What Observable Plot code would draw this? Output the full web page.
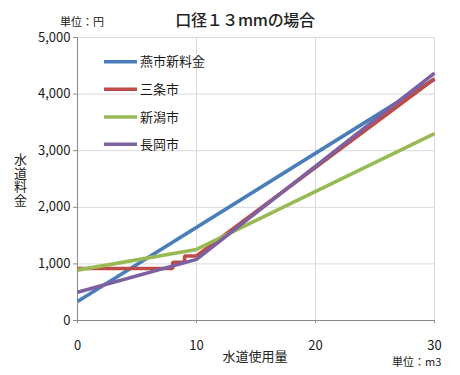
<!DOCTYPE html>
<html>
<head>
<meta charset="utf-8">
<script src="https://cdn.jsdelivr.net/npm/d3@7"></script>
<script src="https://cdn.jsdelivr.net/npm/@observablehq/plot@0.6"></script>
<style>
  body { margin: 0; background: #fff; }
  #wrap { position: relative; width: 460px; height: 375px; font-family: "Noto Sans CJK JP", sans-serif; color: #222; }
  #wrap svg.plot { position: absolute; left: 0; top: 0; }
  .ov { position: absolute; white-space: nowrap; line-height: 1; }
</style>
</head>
<body>
<div id="wrap"></div>
<script>
// ---- data ----
const seriesNames = ["燕市新料金", "三条市", "新潟市", "長岡市"];
const seriesColors = ["#4A7EBB", "#BE4B48", "#98B954", "#7D60A0"];
const tsubameX = [0, 30];
const tsubameY = [335, 4265];
const sanjoX = [0, 8, 8, 9, 9, 10, 30];
const sanjoY = [920, 920, 1030, 1030, 1140, 1140, 4270];
const niigataX = [0, 10, 30];
const niigataY = [890, 1255, 3300];
const nagaokaX = [0, 10, 30];
const nagaokaY = [500, 1080, 4370];
const xTicks = [0, 10, 20, 30];
const yTicks = [0, 1000, 2000, 3000, 4000, 5000];
const titleText = "口径１３mmの場合";
const yUnit = "単位：円";
const xUnit = "単位：m3";
const yLabel = "水道料金";
const xLabel = "水道使用量";

const allX = [tsubameX, sanjoX, niigataX, nagaokaX];
const allY = [tsubameY, sanjoY, niigataY, nagaokaY];
const rows = [];
seriesNames.forEach((name, i) => {
  allX[i].forEach((x, j) => rows.push({series: name, x, y: allY[i][j]}));
});

const font = '"Noto Sans CJK JP", sans-serif';
const chart = Plot.plot({
  width: 460,
  height: 375,
  marginLeft: 77,
  marginRight: 26,
  marginTop: 37,
  marginBottom: 55,
  style: {fontFamily: font, fontSize: "13px", background: "transparent"},
  x: {domain: [0, 30]},
  y: {domain: [0, 5000]},
  color: {domain: seriesNames, range: seriesColors},
  marks: [
    Plot.gridY(yTicks.slice(1), {stroke: "#d9d9d9", strokeOpacity: 1}),
    Plot.gridX(xTicks.slice(1), {stroke: "#d9d9d9", strokeOpacity: 1}),
    Plot.axisY(yTicks, {tickSize: 4, tickPadding: 3, tickFormat: d3.format(","), color: "#1a1a1a", stroke: "#8a8a8a", label: null, fontSize: 13}),
    Plot.axisX(xTicks, {tickSize: 3, tickPadding: 17, color: "#1a1a1a", stroke: "#8a8a8a", label: null, fontSize: 13}),
    Plot.ruleX([0], {stroke: "#8a8a8a"}),
    Plot.ruleY([0], {stroke: "#8a8a8a"}),
    Plot.line(rows, {x: "x", y: "y", z: "series", stroke: "series", strokeWidth: 3.6, strokeLinejoin: "miter", strokeLinecap: "butt"})
  ]
});
chart.classList.add("plot");
const wrap = document.getElementById("wrap");
wrap.appendChild(chart);

function ov(text, css) {
  const d = document.createElement("div");
  d.className = "ov";
  d.textContent = text;
  Object.assign(d.style, css);
  wrap.appendChild(d);
  return d;
}
ov(titleText, {left: "0px", width: "490px", textAlign: "center", top: "11px", fontSize: "16px", fontWeight: "500", letterSpacing: "-0.3px"});
ov(yUnit, {left: "60px", top: "16px", fontSize: "11px"});
ov(xUnit, {left: "392px", top: "356px", fontSize: "11px"});
ov(xLabel, {left: "0px", width: "510px", textAlign: "center", top: "349px", fontSize: "13px"});
ov(yLabel, {left: "14px", top: "153px", fontSize: "13px", writingMode: "vertical-rl", textOrientation: "upright", letterSpacing: "0.5px"});

// legend
const leg = d3.select(wrap).append("svg")
  .style("position", "absolute").style("left", "0px").style("top", "0px")
  .attr("width", 460).attr("height", 375).style("pointer-events", "none");
const legRowY = [61.7, 89.3, 117, 144.3];
seriesNames.forEach((name, i) => {
  const g = leg.append("g").attr("transform", `translate(0,${legRowY[i]})`);
  g.append("line").attr("x1", 104).attr("x2", 137).attr("y1", 0).attr("y2", 0)
    .attr("stroke", seriesColors[i]).attr("stroke-width", 3.6);
  g.append("text").attr("x", 140).attr("y", 0).attr("dy", "0.35em")
    .attr("font-family", font).attr("font-size", 13).attr("fill", "#1a1a1a").text(name);
});
</script>
</body>
</html>
